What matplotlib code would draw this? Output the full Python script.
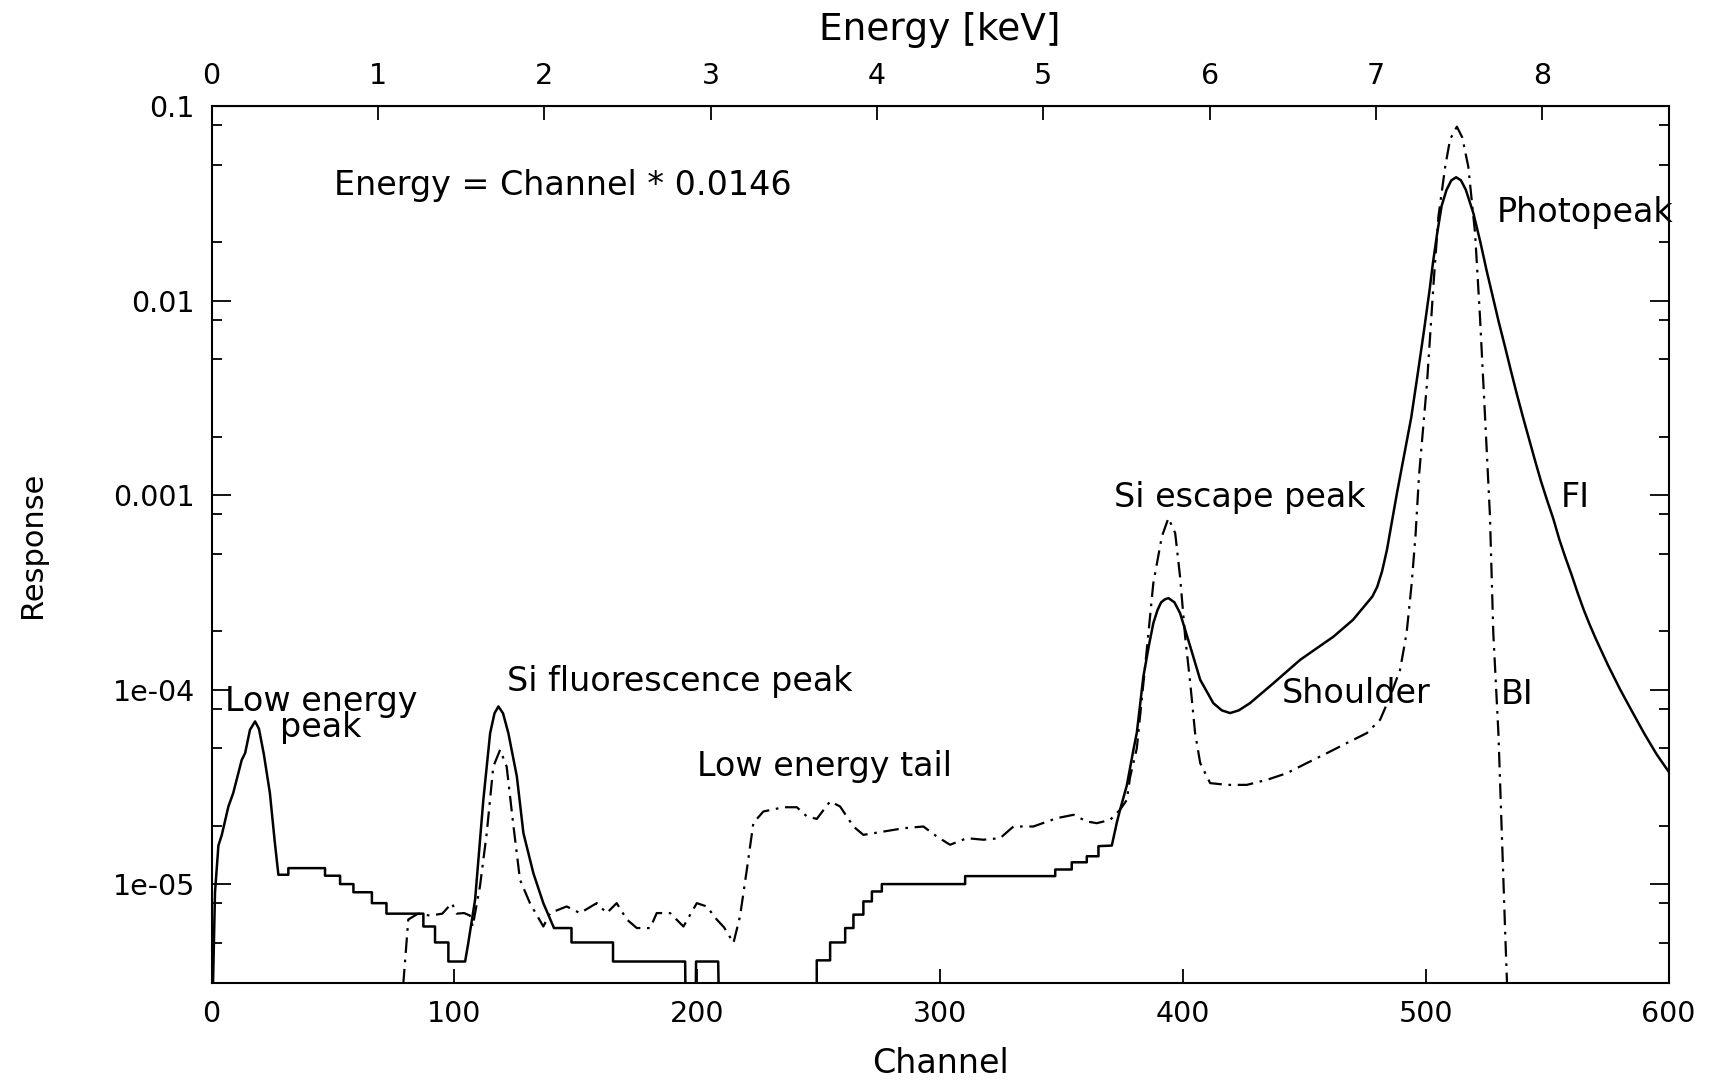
import numpy as np
import matplotlib
matplotlib.use("Agg")
import matplotlib.pyplot as plt
from matplotlib.ticker import LogLocator, NullFormatter

plt.rcParams["font.family"] = "DejaVu Sans"

# FI response (solid line): channel and log10(response)
fi_channel = [0, 0.6, 1.4, 2.8, 4.2, 6.9, 8.9, 12.4, 13.8, 15.8, 17.9, 19.5, 21.5, 24, 26, 27.5,
              31.6, 31.6, 46.7, 46.7, 52.9, 52.9, 58.4, 58.4, 66, 66, 72, 72, 87.2, 87.2,
              92, 92, 97.5, 97.5, 104.4, 105.7, 108.5, 111.9, 114.7, 116.5, 118.1, 120, 122.2,
              125.7, 128.4, 132.5, 136.6, 139.5, 141, 148.2, 148.2, 165.3, 165.3, 195, 195.5,
              199, 199.5, 208.6, 209.5, 249.2, 249.2, 254.7, 254.7, 260.9, 260.9, 264.3, 264.3,
              268.4, 268.4, 271.9, 271.9, 276, 276, 310.3, 310.3, 347.4, 347.4, 354.2, 354.2,
              360.4, 360.4, 365.2, 365.2, 370.7, 372.8, 374.1, 376.9, 379.6, 381, 383.7, 386,
              387.8, 389.5, 391, 392.5, 394, 396.5, 398.8, 403, 407.1, 412.5, 416, 419.4, 423,
              427.6, 437.3, 448.3, 462, 470, 475.7, 478, 480, 482, 484, 486, 488.1, 491.5, 494,
              496.5, 499.1, 501.5, 503, 504.6, 506.5, 508.5, 510.5, 512.5, 514.5, 516.5, 519.6,
              522.5, 525, 527.9, 530, 532.5, 535, 537.5, 540, 542.5, 545, 547.5, 550, 552.5,
              555, 557.5, 560, 562.5, 565, 567.5, 570, 575, 580, 585, 590, 595, 600]
fi_log = [-6, -5.5, -5.04, -4.80, -4.745, -4.60, -4.53, -4.36, -4.325, -4.205, -4.162, -4.2, -4.33,
          -4.53, -4.78, -4.95,
          -4.95, -4.916, -4.916, -4.955, -4.955, -4.998, -4.998, -5.04, -5.04, -5.096, -5.096, -5.15,
          -5.15, -5.216,
          -5.216, -5.298, -5.298, -5.396, -5.396, -5.30, -5.079, -4.565, -4.222, -4.12, -4.085, -4.12,
          -4.222,
          -4.445, -4.736, -4.942, -5.096, -5.18, -5.224, -5.224, -5.298, -5.298, -5.396, -5.396, -6,
          -6, -5.396, -5.396, -6, -6, -5.39, -5.39, -5.298, -5.298, -5.224, -5.224, -5.155,
          -5.155, -5.087, -5.087, -5.036, -5.036, -4.998, -4.998, -4.957, -4.957, -4.923, -4.923,
          -4.886,
          -4.886, -4.855, -4.855, -4.803, -4.80, -4.68, -4.616, -4.49, -4.308, -4.22, -3.931, -3.77,
          -3.657, -3.59, -3.55, -3.535, -3.528, -3.55, -3.605, -3.777, -3.948, -4.068, -4.105,
          -4.119, -4.105,
          -4.068, -3.965, -3.845, -3.726, -3.64, -3.554, -3.52, -3.47, -3.39, -3.28, -3.14, -2.99,
          -2.767, -2.6,
          -2.39, -2.167, -1.95, -1.80, -1.66, -1.513, -1.431, -1.381, -1.365, -1.381, -1.43, -1.55,
          -1.70, -1.842, -1.996, -2.107, -2.23, -2.357, -2.48, -2.597, -2.71, -2.822, -2.93, -3.027,
          -3.12,
          -3.227, -3.32, -3.407, -3.5, -3.587, -3.665, -3.737, -3.872, -3.997, -4.112, -4.225,
          -4.33, -4.42]

# BI response (dash-dot line)
bi_channel = [77.6, 79, 81, 85, 90, 95, 98.9, 101, 104, 106.4, 107.5, 110.5, 113.3, 116, 118.8,
              121.5, 124.3, 127, 131.1, 136.6, 139.4, 146.2, 151.7, 158.6, 162.7, 166.8, 171,
              175.1, 180.6, 183.3, 188.8, 194.3, 199.8, 203.9, 208, 211, 214.9, 217.6, 220.4,
              223.1, 227.2, 235.5, 241, 245.1, 249.2, 254.7, 258.8, 264.3, 268.4, 276.7, 284.9,
              293.1, 298.6, 304.1, 311, 317.8, 324.7, 330.2, 338.4, 348.1, 354.9, 360.4, 364.5,
              370, 374.1, 376.9, 378.2, 381, 385.1, 387.8, 391.3, 394, 396.8, 398.8, 400.9, 403,
              405, 407.1, 411.2, 418.1, 426.3, 434.6, 442.8, 451, 459.3, 467.5, 475.7, 481.2,
              485.3, 489.4, 492.1, 494.2, 495.8, 497.2, 500.5, 503.2, 505.2, 508, 510, 512.8,
              515, 517.5, 520.3, 522.3, 524.4, 526.4, 527.8, 529.9, 531.3, 532.7, 533.4, 534]
bi_log = [-6, -5.5, -5.18, -5.15, -5.16, -5.15, -5.096, -5.15, -5.147, -5.16, -5.216, -5.01,
          -4.736, -4.394, -4.308,
          -4.394, -4.70, -4.976, -5.096, -5.216, -5.147, -5.113, -5.147, -5.096, -5.147, -5.096,
          -5.18,
          -5.224, -5.224, -5.147, -5.147, -5.216, -5.096, -5.113, -5.18, -5.22, -5.30, -5.164,
          -4.924,
          -4.684, -4.625, -4.603, -4.603, -4.65, -4.663, -4.573, -4.599, -4.702, -4.745, -4.728,
          -4.711,
          -4.702, -4.753, -4.796, -4.762, -4.77, -4.762, -4.702, -4.702, -4.659, -4.642, -4.676,
          -4.685,
          -4.668, -4.616, -4.565, -4.45, -4.3, -3.794, -3.451, -3.212, -3.117, -3.194, -3.417,
          -3.726, -3.965,
          -4.222, -4.376, -4.479, -4.488, -4.488, -4.462, -4.428, -4.376, -4.325, -4.273, -4.222,
          -4.153,
          -4.034, -3.897, -3.708, -3.451, -3.2, -2.9, -2.423, -1.91, -1.567, -1.31, -1.17, -1.105,
          -1.16, -1.31, -1.653, -2.08, -2.595, -3.1, -3.708, -4.222, -4.736, -5.25, -5.49, -6]

kev_per_channel = 0.0146
energy_ticks = [0, 1, 2, 3, 4, 5, 6, 7, 8]
channel_ticks = [0, 100, 200, 300, 400, 500, 600]
y_ticks = [1e-5, 1e-4, 1e-3, 1e-2, 1e-1]
y_tick_labels = ["1e-05", "1e-04", "0.001", "0.01", "0.1"]

# annotation texts: (text, channel, log10 response, vertical alignment)
notes = [
    ("Low energy\npeak", 45.0, -4.127, "center"),
    ("Si fluorescence peak", 192.8, -4.003, "baseline"),
    ("Low energy tail", 252.4, -4.442, "baseline"),
    ("Si escape peak", 423.5, -3.062, "baseline"),
    ("Shoulder", 471.3, -4.065, "baseline"),
    ("BI", 537.7, -4.07, "baseline"),
    ("FI", 561.6, -3.062, "baseline"),
    ("Photopeak", 565.7, -1.597, "baseline"),
]

fig = plt.figure(figsize=(17.19, 10.82), dpi=100)
ax = fig.add_axes([0.1231, 0.0911, 0.8476, 0.8107])

ax.plot(fi_channel, 10 ** np.array(fi_log), color="black", lw=1.8)
ax.plot(bi_channel, 10 ** np.array(bi_log), color="black", lw=1.6,
        dashes=(7, 3, 1.2, 3))

ax.set_yscale("log")
ax.set_xlim(0, 600)
ax.set_ylim(3.1e-6, 0.1)
ax.set_xticks(channel_ticks)
ax.set_yticks(y_ticks)
ax.set_yticklabels(y_tick_labels)
ax.yaxis.set_minor_locator(LogLocator(base=10, subs=(2, 5, 8)))
ax.yaxis.set_minor_formatter(NullFormatter())

ax.tick_params(axis="both", which="both", direction="in", labelsize=20.5, width=1.3)
ax.tick_params(axis="y", which="major", length=14, right=True, pad=12)
ax.tick_params(axis="y", which="minor", length=7, right=True)
ax.tick_params(axis="x", which="major", length=10, top=False, pad=12)
for s in ax.spines.values():
    s.set_linewidth(1.5)

secax = ax.secondary_xaxis("top", functions=(lambda c: c * kev_per_channel,
                                             lambda e: e / kev_per_channel))
secax.set_xticks(energy_ticks)
secax.tick_params(direction="in", length=10, width=1.3, labelsize=20.5, pad=12)
secax.set_xlabel("Energy [keV]", fontsize=27)
secax.xaxis.set_label_coords(0.5, 1.075, transform=ax.transAxes)

ax.set_xlabel("Channel", fontsize=24)
ax.xaxis.set_label_coords(0.5, -0.073)
ax.set_ylabel("Response", fontsize=22)
ax.yaxis.set_label_coords(-0.113, 0.5)

ax.text(50.6, 10 ** -1.456, "Energy = Channel * 0.0146", fontsize=24,
        ha="left", va="baseline")
for label, x, y, va in notes:
    ax.text(x, 10 ** y, label, fontsize=24, ha="center", va=va,
            multialignment="center", linespacing=0.75)

fig.savefig("out.png", dpi=100)
